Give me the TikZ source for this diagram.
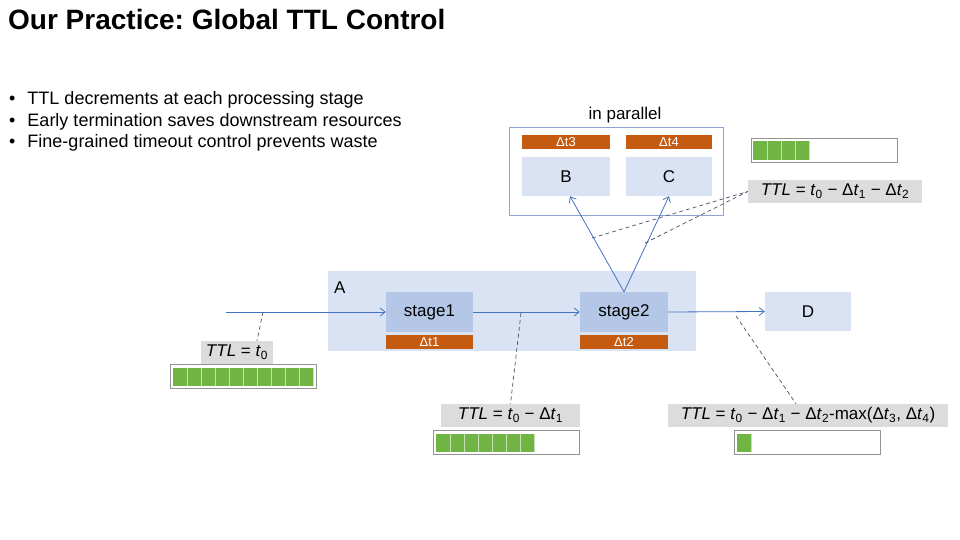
\documentclass[tikz,border=0pt]{standalone}
\usepackage{fontspec}
\setmainfont{Liberation Sans}
\frenchspacing
\usetikzlibrary{arrows.meta,calc}
\definecolor{lightblue}{HTML}{DAE3F3}
\definecolor{stageblue}{HTML}{B4C7E7}
\definecolor{orangebar}{HTML}{C55A11}
\definecolor{lineblue}{HTML}{4472C4}
\definecolor{dashblue}{HTML}{44546A}
\definecolor{frameblue}{HTML}{8AA5CF}
\definecolor{greencell}{HTML}{70B544}
\definecolor{graylab}{HTML}{DCDCDC}
\tikzset{
  lightbox/.style={fill=lightblue, draw=none, inner sep=0pt, font=\fontsize{17}{20}\selectfont},
  stagebox/.style={fill=stageblue, draw=none, inner sep=0pt, minimum width=87pt, minimum height=40pt, font=\fontsize{17}{20}\selectfont},
  timebar/.style={fill=orangebar, draw=none, inner sep=0pt, minimum height=14pt, text=white, font=\fontsize{13}{14}\selectfont},
  flow/.style={draw=lineblue, line width=0.8pt, -{Straight Barb[length=5pt,width=8pt,line width=0.8pt]}},
  note/.style={draw=dashblue, line width=0.7pt, dash pattern=on 4pt off 3pt},
  ttllab/.style={fill=graylab, draw=none, inner sep=0pt, minimum height=23pt, font=\fontsize{17}{20}\selectfont},
  barframe/.style={draw=gray!85, line width=0.8pt, fill=white, inner sep=0pt, minimum height=24pt, minimum width=146pt},
  bullet/.style={anchor=base west, inner sep=0pt, font=\fontsize{18}{21}\selectfont}
}
\newcommand{\ttlcells}[4]{% x0, ytop, n, ybottom
  \foreach \i in {1,...,#3} {
    \fill[greencell] ({#1+(\i-1)*14}, #2) rectangle ({#1+\i*14}, #4);
  }
  \foreach \i in {1,...,#3} {
    \draw[greencell!40!white, line width=1pt] ({#1+\i*14}, #2) -- ({#1+\i*14}, #4);
  }
}
\begin{document}
\begin{tikzpicture}[x=1pt,y=-1pt]
\useasboundingbox[fill=white] (0,0) rectangle (960,540);

% title and bullets
\node[anchor=base west, inner sep=0pt, font=\fontsize{28}{32}\selectfont\bfseries] (title) at (8,30) {Our Practice: Global TTL Control};
\node[bullet] (b1) at (9,105) {•\hspace{12pt}TTL decrements at each processing stage};
\node[bullet] (b2) at (9,126.5) {•\hspace{12pt}Early termination saves downstream resources};
\node[bullet] (b3) at (9,148) {•\hspace{12pt}Fine-grained timeout control prevents waste};

% parallel group
\node[draw=frameblue, line width=1pt, minimum width=214pt, minimum height=87pt, inner sep=0pt] (par) at (616,171.5) {};
\node[font=\fontsize{17}{20}\selectfont, inner sep=0pt] (parlab) at (625,115) {in parallel};
\node[timebar, minimum width=88pt] (dt3) at (566,142) {Δt3};
\node[timebar, minimum width=86pt] (dt4) at (669,142) {Δt4};
\node[lightbox, minimum width=88pt, minimum height=39pt] (B) at (566,176.5) {B};
\node[lightbox, minimum width=86pt, minimum height=39pt] (C) at (669,176.5) {C};

% A container
\node[fill=lightblue, draw=none, minimum width=368pt, minimum height=80pt, inner sep=0pt] (A) at (512,311) {};
\node[anchor=base west, inner sep=0pt, font=\fontsize{17}{20}\selectfont] (Alab) at (334,293) {A};
\node[stagebox] (s1) at (429.5,312) {stage1};
\node[timebar, minimum width=87pt] (dt1) at (429.5,342) {Δt1};
\node[stagebox, minimum width=88pt] (s2) at (624,312) {stage2};
\node[timebar, minimum width=88pt] (dt2) at (624,342) {Δt2};
\node[lightbox, minimum width=86pt, minimum height=39pt] (D) at (808,311.5) {D};

% flow
\coordinate (in) at (226,312);
\draw[flow] (in) -- (s1.west);
\draw[flow] (s1.east) -- (s2.west);
\draw[flow] (s2.east) -- (D.west);
\draw[flow] (s2.north) -- ([xshift=4pt]B.south);
\draw[flow] (s2.north) -- (C.south);

% labels
\node[ttllab, minimum width=72pt] (lab0) at (237,352.5) {\textit{TTL} = \textit{t}\textsubscript{0}};
\node[ttllab, minimum width=139pt] (lab1) at (510.5,415.5) {\textit{TTL} = \textit{t}\textsubscript{0} − Δ\textit{t}\textsubscript{1}};
\node[ttllab, minimum width=280pt] (lab3) at (808,415.5) {\textit{TTL} = \textit{t}\textsubscript{0} − Δ\textit{t}\textsubscript{1} − Δ\textit{t}\textsubscript{2}-max(Δ\textit{t}\textsubscript{3}, Δ\textit{t}\textsubscript{4})};
\node[ttllab, minimum width=174pt] (lab2) at (835,191.5) {\textit{TTL} = \textit{t}\textsubscript{0} − Δ\textit{t}\textsubscript{1} − Δ\textit{t}\textsubscript{2}};

% bars
\node[barframe] (bar0) at (243,376.5) {};
\ttlcells{173}{367.5}{10}{386}
\node[barframe] (bar1) at (506.5,442.5) {};
\ttlcells{436}{433.5}{7}{452}
\node[barframe] (bar3) at (807.5,442.5) {};
\ttlcells{737}{433.5}{1}{452}
\node[barframe] (bar2) at (824,150.5) {};
\ttlcells{753}{141.5}{4}{160}

% dashed notes
\coordinate (n0) at (263,312);
\draw[note] (n0) -- ([xshift=20pt]lab0.north);
\coordinate (n1) at (521,313);
\draw[note] (n1) -- (lab1.north);
\coordinate (n3) at (736,316);
\draw[note] (n3) -- ([xshift=-12pt]lab3.north);
\coordinate (n2a) at (592,238);
\coordinate (n2b) at (645,243);
\draw[note] (n2a) -- (lab2.west);
\draw[note] (n2b) -- (lab2.west);
\end{tikzpicture}
\end{document}
